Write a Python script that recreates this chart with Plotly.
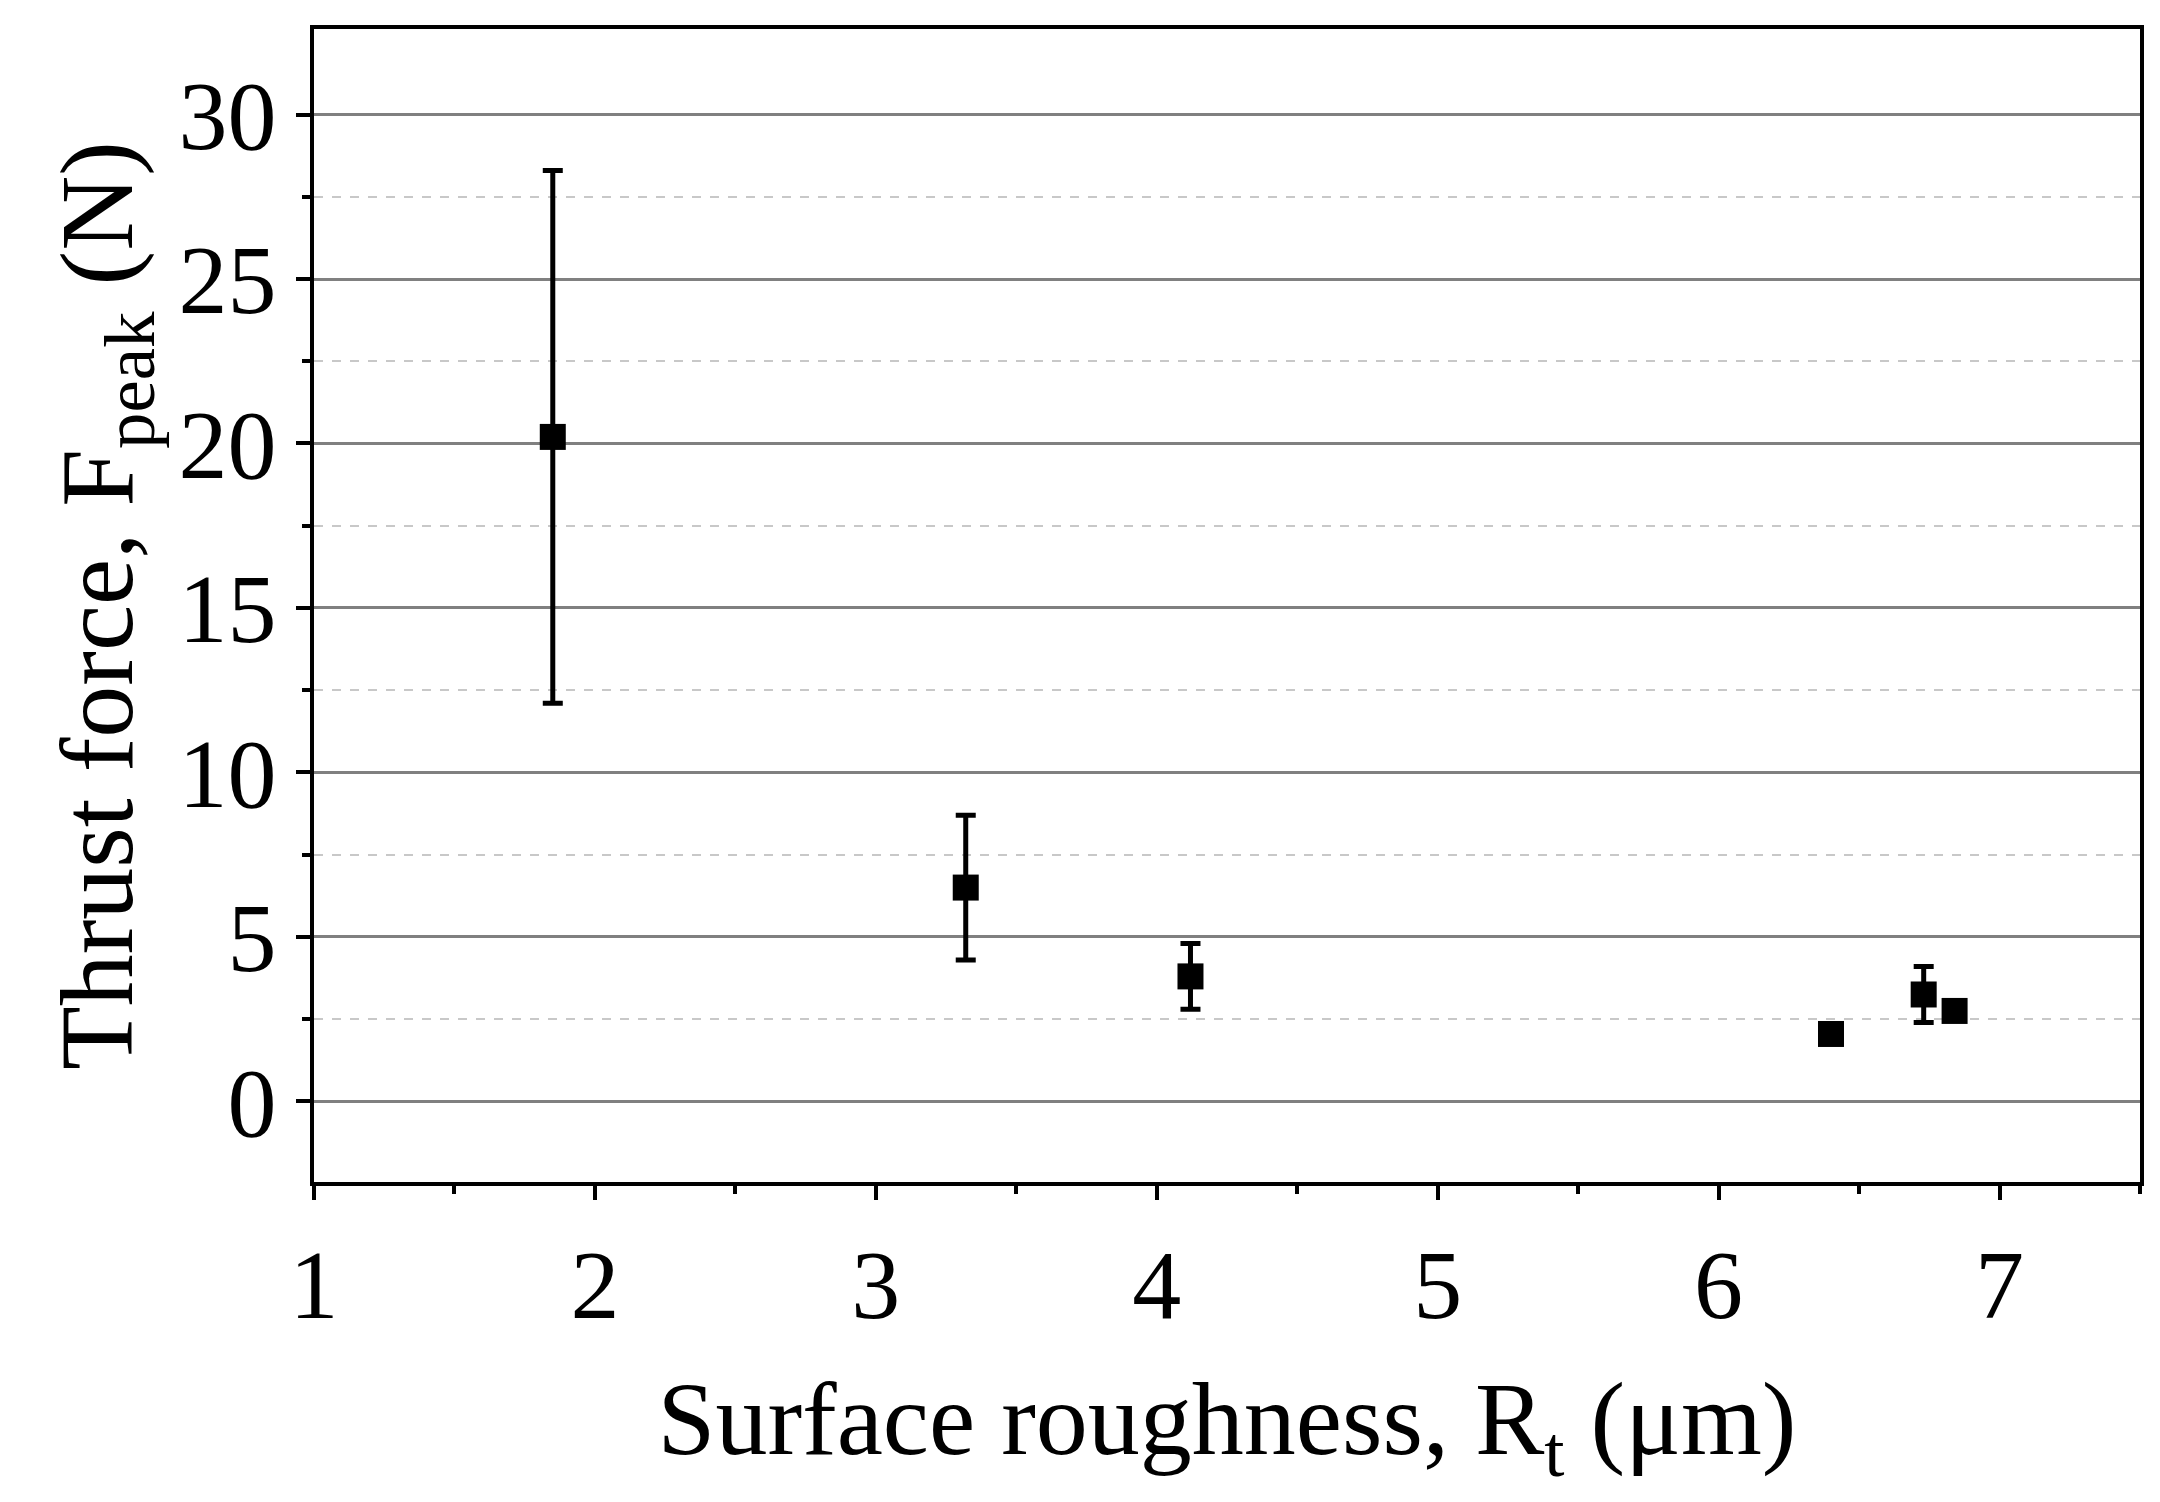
import plotly.graph_objects as go

roughness = [1.85, 3.32, 4.12, 6.40, 6.73, 6.84]
force = [20.2, 6.5, 3.8, 2.05, 3.25, 2.75]
force_err = [8.1, 2.2, 1.0, 0.2, 0.85, 0.15]

fig = go.Figure(go.Scatter(
    x=roughness, y=force, mode="markers",
    marker=dict(symbol="square", size=26, color="black"),
    error_y=dict(type="data", array=force_err, color="black", thickness=5, width=10),
))
font = dict(family="Liberation Serif", color="black")
fig.update_layout(
    width=2160, height=1502, plot_bgcolor="white", paper_bgcolor="white",
    margin=dict(l=306, r=28, t=21, b=328), showlegend=False, font=font,
)
fig.update_xaxes(range=[1, 7.5], tickvals=[1, 2, 3, 4, 5, 6, 7], showgrid=False,
                 showline=True, linecolor="black", linewidth=4, mirror=True,
                 ticks="outside", ticklen=14, tickwidth=4, tickcolor="black",
                 minor=dict(dtick=0.5, ticks="outside", ticklen=8, tickwidth=4, tickcolor="black"),
                 tickfont=dict(size=98, **font), zeroline=False,
                 title=dict(text="Surface roughness, R<sub>t</sub> (μm)", font=dict(size=104, **font), standoff=45))
fig.update_yaxes(range=[-2.45, 32.6], tickvals=[0, 5, 10, 15, 20, 25, 30],
                 showgrid=True, gridcolor="#808080", gridwidth=3, zeroline=False,
                 showline=True, linecolor="black", linewidth=4, mirror=True,
                 ticks="outside", ticklen=14, tickwidth=4, tickcolor="black",
                 minor=dict(tickvals=[2.5, 7.5, 12.5, 17.5, 22.5, 27.5], ticks="outside", ticklen=8,
                            tickwidth=4, tickcolor="black", showgrid=True, gridcolor="#c8c8c8",
                            griddash="dash", gridwidth=2),
                 tickfont=dict(size=98, **font),
                 title=dict(text="Thrust force, F<sub>peak</sub> (N)", font=dict(size=104, **font), standoff=12))
fig.write_html("out.html")
